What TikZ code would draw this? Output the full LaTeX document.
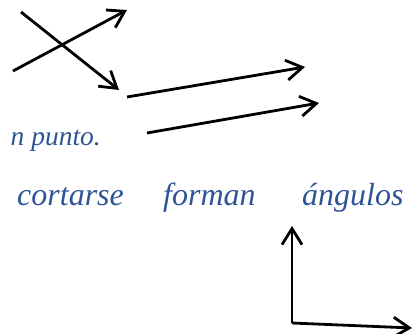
\documentclass[tikz,border=0pt]{standalone}
\usepackage{fontspec}
\setmainfont{Liberation Serif}
\usetikzlibrary{arrows.meta}
\definecolor{wordblue}{HTML}{2F5496}
\tikzset{
  vec/.style={line width=2.8pt, -{Straight Barb[length=16pt,width=20pt]}},
  word/.style={text=wordblue, font=\fontsize{32}{38}\selectfont\itshape, inner sep=0pt},
  smallword/.style={text=wordblue, font=\fontsize{27.5}{32}\selectfont\itshape, inner sep=0pt}
}
\begin{document}
\begin{tikzpicture}[x=1pt,y=-1pt]
  \useasboundingbox (0,0) rectangle (413,334);

  % two secant lines crossing
  \coordinate (a1) at (21,12);
  \coordinate (a2) at (119,90);
  \coordinate (b1) at (13,71);
  \coordinate (b2) at (127,10);
  \draw[vec] (a1) -- (a2);
  \draw[vec] (b1) -- (b2);

  % two parallel lines
  \coordinate (p1) at (127,97);
  \coordinate (p2) at (305,67);
  \coordinate (q1) at (147,133);
  \coordinate (q2) at (319,103);
  \draw[vec] (p1) -- (p2);
  \draw[vec] (q1) -- (q2);

  % text fragments
  \node[smallword, anchor=base east] (punto) at (101,146) {n punto.};
  \node[word, anchor=base west] (cortarse) at (17,206) {cortarse};
  \node[word, anchor=base west] (forman) at (163,206) {forman};
  \node[word, anchor=base west] (angulos) at (302,206) {ángulos};

  % right angle
  \coordinate (o) at (292,323);
  \coordinate (up) at (292,226);
  \coordinate (rt) at (412,328);
  \draw[vec] (o) -- (up);
  \draw[vec] (o) -- (rt);
\end{tikzpicture}
\end{document}
